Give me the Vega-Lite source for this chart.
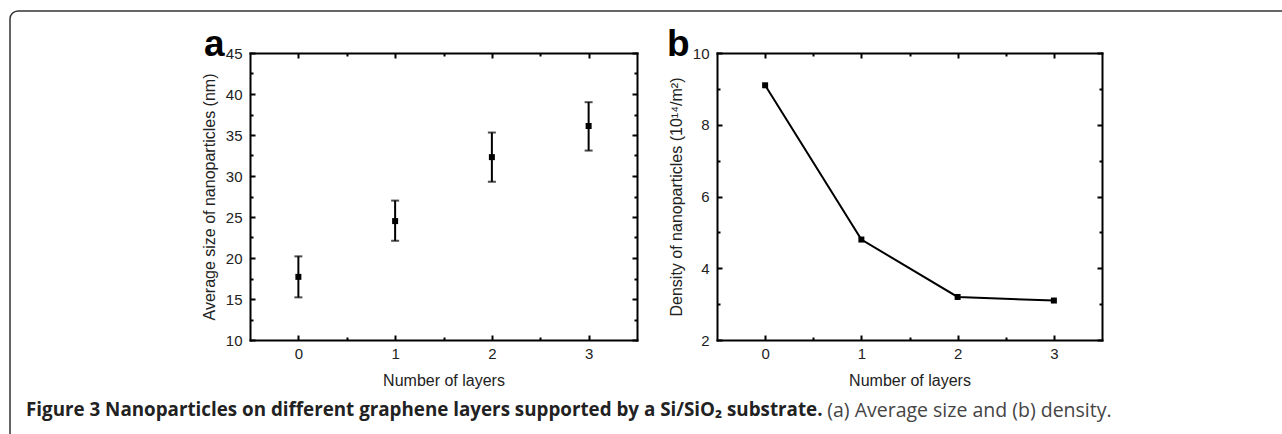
{
  "$schema": "https://vega.github.io/schema/vega-lite/v6.json",
  "autosize": {"type": "pad"},
  "padding": {"left": 9, "top": 10, "right": -19, "bottom": -18},
  "background": "white",
  "bounds": "flush",
  "align": "none",
  "columns": 1,
  "spacing": {"row": -42, "column": 0},
  "title": {"text": "(a) Average size and (b) density.", "orient": "bottom", "anchor": "start", "frame": "bounds", "baseline": "alphabetic", "offset": -35, "dx": 818, "font": "Open Sans", "fontSize": 19.5, "fontWeight": "normal", "color": "#444"},
  "concat": [
    {
      "bounds": "flush",
      "spacing": 80,
      "hconcat": [
        {"width": 160, "height": 287, "data": {"values": []}, "mark": "point", "encoding": {}},
        {
          "width": 387, "height": 287,
          "title": {"text": "a", "anchor": "start", "frame": "group", "orient": "top", "baseline": "alphabetic", "offset": -47, "dx": -46, "font": "Liberation Sans", "fontSize": 37, "fontWeight": "bold", "color": "black"},
          "data": {"values": [
            {"layers": 0, "size": 17.7, "low": 15.2, "high": 20.2},
            {"layers": 1, "size": 24.5, "low": 22.1, "high": 27.0},
            {"layers": 2, "size": 32.3, "low": 29.3, "high": 35.3},
            {"layers": 3, "size": 36.1, "low": 33.1, "high": 39.0}
          ]},
          "resolve": {"axis": {"x": "independent", "y": "independent"}},
          "layer": [
            {
              "mark": {"type": "rule", "color": "black", "strokeWidth": 2},
              "encoding": {
                "x": {"field": "layers", "type": "quantitative", "scale": {"domain": [-0.5, 3.5], "nice": false, "zero": false},
                  "axis": {"orient": "bottom", "title": "Number of layers", "values": [0, 0.5, 1, 1.5, 2, 2.5, 3], "labelExpr": "datum.value % 1 === 0 ? '' + datum.value : ''", "tickSize": {"condition": {"test": "datum.value % 1 === 0", "value": -5}, "value": -3}, "labelPadding": 11, "titlePadding": 9}},
                "y": {"field": "low", "type": "quantitative", "scale": {"domain": [10, 45], "nice": false, "zero": false},
                  "axis": {"orient": "left", "title": "Average size of nanoparticles (nm)", "values": [10, 12.5, 15, 17.5, 20, 22.5, 25, 27.5, 30, 32.5, 35, 37.5, 40, 42.5, 45], "labelExpr": "datum.value % 5 === 0 ? datum.label : ''", "tickSize": {"condition": {"test": "datum.value % 5 === 0", "value": -5}, "value": -3}, "labelPadding": 13, "titlePadding": 8}},
                "y2": {"field": "high"}
              }
            },
            {
              "mark": {"type": "tick", "orient": "horizontal", "color": "black", "size": 8, "thickness": 2},
              "encoding": {"x": {"field": "layers", "type": "quantitative", "axis": null}, "y": {"field": "low", "type": "quantitative", "axis": null}}
            },
            {
              "mark": {"type": "tick", "orient": "horizontal", "color": "black", "size": 8, "thickness": 2},
              "encoding": {"x": {"field": "layers", "type": "quantitative", "axis": null}, "y": {"field": "high", "type": "quantitative", "axis": null}}
            },
            {
              "mark": {"type": "square", "color": "black", "size": 36, "filled": true, "opacity": 1},
              "encoding": {"x": {"field": "layers", "type": "quantitative", "axis": null}, "y": {"field": "size", "type": "quantitative", "axis": null}}
            },
            {
              "mark": {"type": "point", "opacity": 0},
              "encoding": {
                "x": {"field": "layers", "type": "quantitative", "axis": {"orient": "top", "title": null, "labels": false, "values": [0, 0.5, 1, 1.5, 2, 2.5, 3], "tickSize": {"condition": {"test": "datum.value % 1 === 0", "value": -5}, "value": -3}}},
                "y": {"field": "size", "type": "quantitative", "axis": {"orient": "right", "title": null, "labels": false, "values": [10, 12.5, 15, 17.5, 20, 22.5, 25, 27.5, 30, 32.5, 35, 37.5, 40, 42.5, 45], "tickSize": {"condition": {"test": "datum.value % 5 === 0", "value": -5}, "value": -3}}}
              }
            }
          ]
        },
        {
          "width": 385, "height": 287,
          "title": {"text": "b", "anchor": "start", "frame": "group", "orient": "top", "baseline": "alphabetic", "offset": -47, "dx": -50, "font": "Liberation Sans", "fontSize": 37, "fontWeight": "bold", "color": "black"},
          "data": {"values": [
            {"layers": 0, "density": 9.1},
            {"layers": 1, "density": 4.8},
            {"layers": 2, "density": 3.2},
            {"layers": 3, "density": 3.1}
          ]},
          "resolve": {"axis": {"x": "independent", "y": "independent"}},
          "layer": [
            {
              "mark": {"type": "line", "color": "black", "strokeWidth": 2},
              "encoding": {
                "x": {"field": "layers", "type": "quantitative", "scale": {"domain": [-0.5, 3.5], "nice": false, "zero": false},
                  "axis": {"orient": "bottom", "title": "Number of layers", "values": [0, 0.5, 1, 1.5, 2, 2.5, 3], "labelExpr": "datum.value % 1 === 0 ? '' + datum.value : ''", "tickSize": {"condition": {"test": "datum.value % 1 === 0", "value": -5}, "value": -3}, "labelPadding": 11, "titlePadding": 9}},
                "y": {"field": "density", "type": "quantitative", "scale": {"domain": [2, 10], "nice": false, "zero": false},
                  "axis": {"orient": "left", "title": "Density of nanoparticles (10¹⁴/m²)", "values": [2, 3, 4, 5, 6, 7, 8, 9, 10], "labelExpr": "datum.value % 2 === 0 ? datum.label : ''", "tickSize": {"condition": {"test": "datum.value % 2 === 0", "value": -5}, "value": -3}, "labelPadding": 13, "titlePadding": 8}}
              }
            },
            {
              "mark": {"type": "square", "color": "black", "size": 36, "filled": true, "opacity": 1},
              "encoding": {"x": {"field": "layers", "type": "quantitative", "axis": null}, "y": {"field": "density", "type": "quantitative", "axis": null}}
            },
            {
              "mark": {"type": "point", "opacity": 0},
              "encoding": {
                "x": {"field": "layers", "type": "quantitative", "axis": {"orient": "top", "title": null, "labels": false, "values": [0, 0.5, 1, 1.5, 2, 2.5, 3], "tickSize": {"condition": {"test": "datum.value % 1 === 0", "value": -5}, "value": -3}}},
                "y": {"field": "density", "type": "quantitative", "axis": {"orient": "right", "title": null, "labels": false, "values": [2, 3, 4, 5, 6, 7, 8, 9, 10], "tickSize": {"condition": {"test": "datum.value % 2 === 0", "value": -5}, "value": -3}}}
              }
            }
          ]
        }
      ]
    },
    {
      "width": 1290, "height": 440,
      "data": {"values": []},
      "mark": "point",
      "encoding": {},
      "view": {"stroke": "#333", "strokeWidth": 1.5, "cornerRadius": 8, "fill": null},
      "title": {"text": "Figure 3 Nanoparticles on different graphene layers supported by a Si/SiO₂ substrate.", "orient": "bottom", "anchor": "start", "frame": "group", "baseline": "alphabetic", "offset": -35, "dx": 16, "font": "Open Sans", "fontSize": 18.8, "fontWeight": "bold", "color": "#222"}
    }
  ],
  "config": {
    "view": {"stroke": null},
    "axis": {"domainColor": "black", "domainWidth": 2, "domainCap": "square", "tickColor": "black", "tickWidth": 2, "grid": false, "labelFont": "Liberation Sans", "labelFontSize": 15, "labelColor": "#222", "titleFont": "Liberation Sans", "titleFontSize": 16, "titleFontWeight": "normal", "titleColor": "#222", "labelOverlap": false, "labelFlush": false}
  }
}
